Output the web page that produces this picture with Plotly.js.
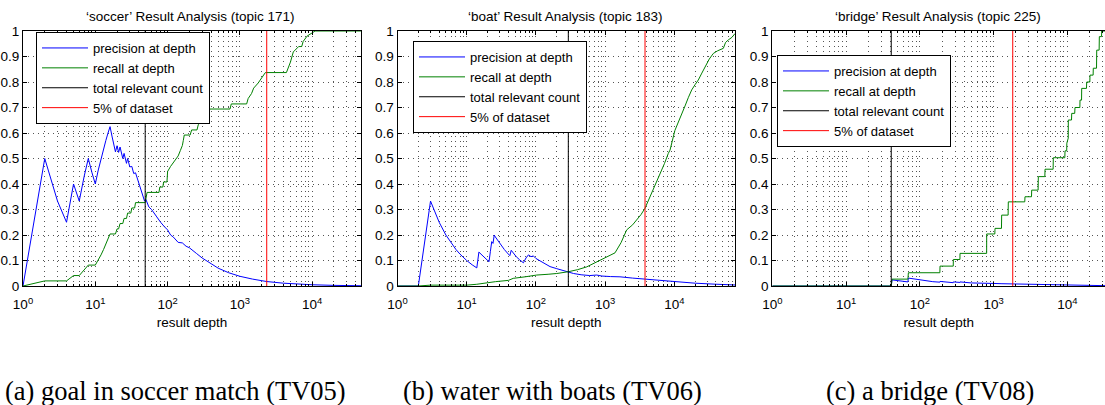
<!DOCTYPE html>
<html>
<head>
<meta charset="utf-8">
<script src="https://cdn.plot.ly/plotly-3.0.1.min.js"></script>
<style>
html,body{margin:0;padding:0;background:#fff;overflow:hidden}
#chart{width:1105px;height:405px}
</style>
</head>
<body>
<div id="chart"></div>
<script>
// ---------- text ----------
const panelTitles = ["\u2018soccer\u2019 Result Analysis (topic 171)", "\u2018boat\u2019 Result Analysis (topic 183)", "\u2018bridge\u2019 Result Analysis (topic 225)"];
const captions = ["(a) goal in soccer match (TV05)", "(b) water with boats (TV06)", "(c) a bridge (TV08)"];
const legendLabels = ["precision at depth", "recall at depth", "total relevant count", "5% of dataset"];
const xAxisTitle = "result depth";
const xTickVals = [1, 10, 100, 1000, 10000];
const xTickText = ["10<sup>0</sup>", "10<sup>1</sup>", "10<sup>2</sup>", "10<sup>3</sup>", "10<sup>4</sup>"];
const yTickVals = [0, 0.1, 0.2, 0.3, 0.4, 0.5, 0.6, 0.7, 0.8, 0.9, 1];

// ---------- (a) soccer ----------
const soccerPrecDepth = [1,2,3,4,5,6,7,8,9,10,11,12,13,14,15,16,17,18,19,20,21,22,23,24,25,26,27,28,30,32,34,36,40,44,48,50,55,60,70,80,90,100,110,120,140,160,180,200,250,300,400,500,700,1000,1500,2350,4000,7000,10000,20000,47300];
const soccerPrecValue = [0,0.5,0.333,0.25,0.4,0.333,0.429,0.5,0.444,0.4,0.455,0.5,0.538,0.571,0.6,0.625,0.588,0.556,0.526,0.55,0.524,0.545,0.522,0.5,0.52,0.5,0.481,0.5,0.467,0.469,0.441,0.444,0.4,0.364,0.333,0.34,0.31,0.3,0.271,0.25,0.233,0.22,0.2,0.192,0.171,0.169,0.156,0.15,0.128,0.11,0.0875,0.07,0.052,0.038,0.027,0.0175,0.011,0.0068,0.0049,0.0025,0.001];
const soccerRecDepth = [1,2,4,5,6,7,8,10,11,12,13,14,15,16,19,20,21,22,24,25,27,28,31,32,35,36,49,50,52,76,78,86,88,98,100,110,125,140,150,160,165,170,205,215,255,266,320,340,386,730,760,1240,1300,1450,1550,1790,2000,2250,4400,4700,5000,5480,6500,7160,7500,8500,10960,47300];
const soccerRecValue = [0,0.02,0.02,0.041,0.041,0.061,0.082,0.082,0.102,0.122,0.143,0.163,0.184,0.204,0.204,0.224,0.224,0.245,0.245,0.265,0.265,0.286,0.286,0.306,0.306,0.327,0.327,0.347,0.367,0.367,0.388,0.388,0.408,0.408,0.449,0.469,0.49,0.51,0.531,0.551,0.571,0.592,0.592,0.612,0.612,0.633,0.653,0.673,0.694,0.694,0.714,0.714,0.735,0.755,0.776,0.796,0.816,0.837,0.837,0.857,0.878,0.918,0.939,0.939,0.959,0.98,1,1];
const soccerRelevantCount = 49;
const soccerFivePercent = 2350;

// ---------- (b) boat ----------
const boatPrecDepth = [1,2,3,4,5,6,7,8,9,10,12,14,15,18,21,22,23,24,25,26,30,35,40,42,44,47,52,58,66,72,78,85,92,100,120,140,160,200,250,294,350,450,600,755,900,1200,1640,2500,3775,6000,9680,20000,40000,75400];
const boatPrecValue = [0,0,0.333,0.25,0.2,0.167,0.143,0.125,0.111,0.1,0.083,0.071,0.133,0.111,0.095,0.136,0.174,0.167,0.2,0.192,0.167,0.143,0.125,0.119,0.14,0.128,0.115,0.103,0.091,0.11,0.122,0.115,0.118,0.108,0.095,0.085,0.076,0.068,0.06,0.054,0.049,0.044,0.041,0.043,0.039,0.037,0.036,0.031,0.027,0.021,0.017,0.011,0.007,0.004];
const boatRecDepth = [1,2,3,10,14,20,26,40,47,70,103,150,200,294,400,542,700,942,1100,1390,1700,2050,2500,2860,3300,3775,4300,4980,5600,6210,7200,8190,8670,10200,12000,14280,16000,17840,20000,22230,25000,27750,32000,36650,42000,51100,55000,60300,68000,75400];
const boatRecValue = [0,0,0.0034,0.0034,0.0068,0.014,0.017,0.022,0.03,0.036,0.043,0.046,0.049,0.056,0.064,0.075,0.09,0.108,0.115,0.13,0.17,0.22,0.24,0.259,0.28,0.305,0.34,0.376,0.41,0.442,0.48,0.52,0.533,0.61,0.66,0.706,0.74,0.769,0.79,0.808,0.835,0.86,0.89,0.912,0.922,0.932,0.955,0.965,0.975,0.99];
const boatRelevantCount = 294;
const boatFivePercent = 3775;

// ---------- (c) bridge ----------
const bridgePrecDepth = [1,41,42,55,69,70,100,150,187,188,284,285,350,351,500,806,807,1000,1300,1600,2000,3000,5000,7000,10000,15000,20000,32430];
const bridgePrecValue = [0,0,0.024,0.019,0.016,0.031,0.024,0.017,0.015,0.018,0.013,0.016,0.014,0.016,0.012,0.009,0.011,0.01,0.009,0.0085,0.007,0.006,0.0045,0.0033,0.0028,0.0022,0.0018,0.0013];
const bridgeRecDepth = [1,41,42,69,70,187,188,284,285,350,351,806,807,1040,1047,1280,1288,1575,1585,2650,2668,3270,3289,4020,4046,4960,4988,6420,6460,9250,9310,9810,9850,10300,10320,11400,11480,12600,12710,14800,14860,15600,15670,18200,18320,20200,20300,22400,22500,24900,25050,27000,27170,29100,29270,32430];
const bridgeRecValue = [0,0,0.027,0.027,0.052,0.052,0.078,0.078,0.104,0.104,0.128,0.128,0.204,0.204,0.226,0.226,0.278,0.278,0.33,0.33,0.35,0.35,0.376,0.376,0.429,0.429,0.458,0.458,0.503,0.503,0.53,0.53,0.56,0.58,0.651,0.651,0.677,0.677,0.7,0.7,0.729,0.729,0.775,0.775,0.8,0.8,0.827,0.827,0.854,0.854,0.925,0.925,0.978,0.978,1,1];
const bridgeRelevantCount = 41;
const bridgeFivePercent = 1820;

// ---------- styling / layout ----------
const W = 1105, H = 405;
const FONT = "Liberation Sans, Arial, Helvetica, sans-serif";
const FS = 13.5;
const LFS = 13;
const colors = ["#0000ff", "#008000", "#000000", "#ff0000"];
const panels = [
  {prec:[soccerPrecDepth, soccerPrecValue], rec:[soccerRecDepth, soccerRecValue], rel:soccerRelevantCount, five:soccerFivePercent,
   dom:[23, 361], range:4.675, mirrorY:'allticks', legendPos:[36, 32], titleX:190.5},
  {prec:[boatPrecDepth, boatPrecValue], rec:[boatRecDepth, boatRecValue], rel:boatRelevantCount, five:boatFivePercent,
   dom:[397.5, 735], range:4.877, mirrorY:'allticks', legendPos:[413, 41], titleX:565},
  {prec:[bridgePrecDepth, bridgePrecValue], rec:[bridgeRecDepth, bridgeRecValue], rel:bridgeRelevantCount, five:bridgeFivePercent,
   dom:[772.3, 1105], range:4.511, mirrorY:false, legendPos:[777, 55], titleX:938}
];
const captionX = [175, 552.5, 929.5];
const plotTop = 31, plotBottom = 286;
const yDom = [(H - plotBottom) / H, (H - plotTop) / H];

const GRID = {gridcolor:"#555", griddash:"1px,4px", gridwidth:1};
const traces = [];
const layout = {
  width: W, height: H,
  margin: {l:0, r:0, t:0, b:0},
  paper_bgcolor: "#fff", plot_bgcolor: "#fff",
  font: {family: FONT, size: FS, color: "#000"},
  showlegend: true,
  annotations: [],
  hovermode: false
};

panels.forEach((p, i) => {
  const n = i === 0 ? "" : String(i + 1);
  const xa = "x" + n, ya = "y" + n, lg = "legend" + n;
  const vals = [[p.prec[0], p.prec[1]], [p.rec[0], p.rec[1]], [[p.rel, p.rel], [0, 1]], [[p.five, p.five], [0, 1]]];
  vals.forEach((v, k) => {
    traces.push({
      type: "scatter", mode: "lines", x: v[0], y: v[1],
      xaxis: xa, yaxis: ya, legend: lg,
      name: legendLabels[k],
      line: {color: colors[k], width: 1},
      hoverinfo: "skip"
    });
  });
  layout["xaxis" + n] = Object.assign({
    type: "log", domain: [p.dom[0] / W, p.dom[1] / W], range: [0, p.range], anchor: ya,
    tickmode: "array", tickvals: xTickVals, ticktext: xTickText,
    ticks: "inside", ticklen: 4, tickcolor: "#000", ticklabelstandoff: 6,
    showline: true, linecolor: "#000", linewidth: 1, mirror: "allticks",
    showgrid: true, zeroline: false,
    tickfont: {family: FONT, size: FS},
    minor: Object.assign({dtick: "D1", showgrid: true, ticks: "inside", ticklen: 2, tickcolor: "#000"}, GRID),
    title: {text: xAxisTitle, font: {family: FONT, size: FS}, standoff: 6}
  }, GRID);
  layout["yaxis" + n] = Object.assign({
    domain: yDom, range: [0, 1], anchor: xa,
    tickmode: "array", tickvals: yTickVals,
    ticks: "inside", ticklen: 4, tickcolor: "#000",
    showline: true, linecolor: "#000", linewidth: 1, mirror: p.mirrorY,
    showgrid: true, zeroline: false,
    tickfont: {family: FONT, size: FS}
  }, GRID);
  layout[lg] = {
    x: p.legendPos[0] / W, y: (H - p.legendPos[1]) / H, xanchor: "left", yanchor: "top",
    bgcolor: "#fff", bordercolor: "#000", borderwidth: 1, itemwidth: 46,
    font: {family: FONT, size: LFS}, tracegroupgap: 0
  };
  layout.annotations.push({
    text: panelTitles[i], xref: "paper", yref: "paper",
    x: p.titleX / W, y: (H - 17) / H, xanchor: "center", yanchor: "middle",
    showarrow: false, font: {family: FONT, size: FS}
  });
  layout.annotations.push({
    text: captions[i], xref: "paper", yref: "paper",
    x: captionX[i] / W, y: (H - 391) / H, xanchor: "center", yanchor: "middle",
    showarrow: false, font: {family: "Liberation Serif, DejaVu Serif, serif", size: 26.5}
  });
});

Plotly.newPlot("chart", traces, layout, {staticPlot: true, displayModeBar: false});
</script>
</body>
</html>
